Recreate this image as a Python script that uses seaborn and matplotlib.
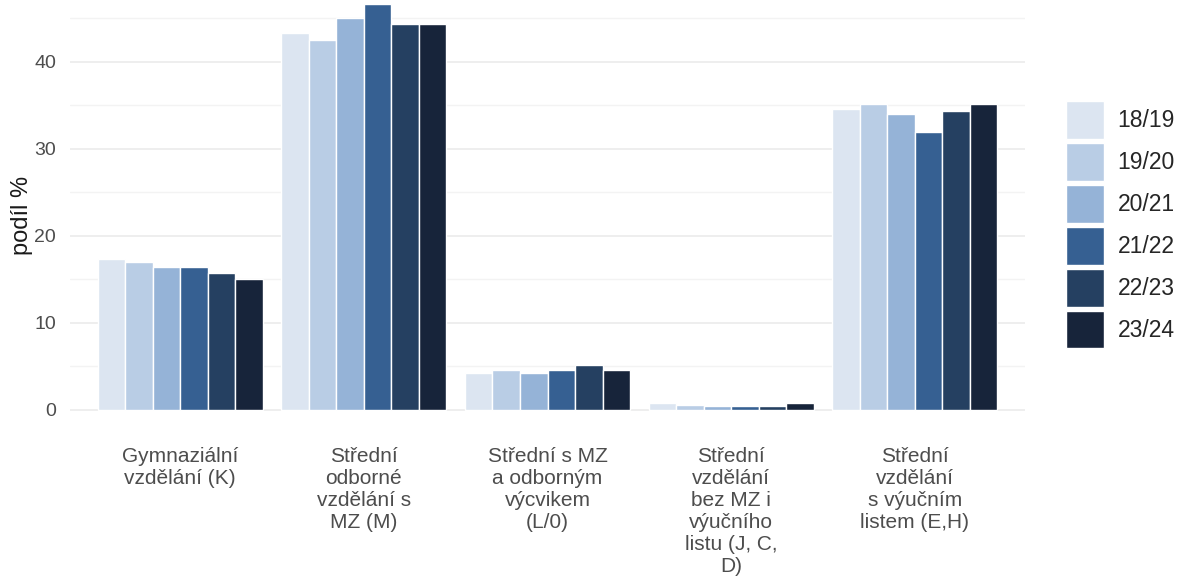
import matplotlib
matplotlib.use("Agg")
import matplotlib.pyplot as plt
import seaborn as sns
import pandas as pd

# categories (line breaks as in the original wrapped labels)
categories = [
    "Gymnaziální\nvzdělání (K)",
    "Střední\nodborné\nvzdělání s\nMZ (M)",
    "Střední s MZ\na odborným\nvýcvikem\n(L/0)",
    "Střední\nvzdělání\nbez MZ i\nvýučního\nlistu (J, C,\nD)",
    "Střední\nvzdělání\ns výučním\nlistem (E,H)",
]
years = ["18/19", "19/20", "20/21", "21/22", "22/23", "23/24"]

# share in % per year, one list per category
gymn = [17.4, 17.0, 16.4, 16.4, 15.7, 15.1]
sos_mz = [43.3, 42.5, 45.0, 46.6, 44.4, 44.4]
mz_vycvik = [4.2, 4.6, 4.2, 4.6, 5.2, 4.6]
bez_mz = [0.84, 0.6, 0.42, 0.42, 0.42, 0.84]
vyucni = [34.6, 35.2, 34.0, 31.9, 34.4, 35.2]

colors = ["#DCE5F1", "#B9CDE5", "#95B3D7", "#366092", "#254061", "#17243A"]

rows = []
for cat, vals in zip(categories, [gymn, sos_mz, mz_vycvik, bez_mz, vyucni]):
    for yr, v in zip(years, vals):
        rows.append({"kategorie": cat, "rok": yr, "podil": v})
df = pd.DataFrame(rows)

sns.set_theme(style="whitegrid")
plt.rcParams["font.family"] = ["Liberation Sans", "DejaVu Sans"]

fig = plt.figure(figsize=(11.77, 5.79), dpi=100)
ax = fig.add_axes([70 / 1177, (579 - 430) / 579, (1025 - 70) / 1177, 430 / 579])

sns.barplot(data=df, x="kategorie", y="podil", hue="rok", palette=colors,
            saturation=1, width=0.9, edgecolor="white", linewidth=1.0, ax=ax)

ax.set_xlim(-0.6, 4.6)
ax.set_ylim(-2.3, 47.1)
ax.set_yticks([0, 10, 20, 30, 40])
ax.set_yticks([5, 15, 25, 35, 45], minor=True)
ax.grid(axis="y", which="major", color="#EBEBEB", linewidth=1.2)
ax.grid(axis="y", which="minor", color="#F3F3F3", linewidth=1.0)
ax.grid(axis="x", visible=False)
ax.set_axisbelow(True)
for s in ax.spines.values():
    s.set_visible(False)

ax.tick_params(axis="y", which="both", length=0, labelsize=14, labelcolor="#4D4D4D", pad=10)
ax.tick_params(axis="x", length=0, labelsize=15, labelcolor="#4D4D4D", pad=12)
ax.set_xlabel("")
ax.set_ylabel("podíl %", fontsize=17, color="#1a1a1a")
ax.yaxis.set_label_coords(-0.039, 0.5)

for lbl in ax.get_xticklabels():
    lbl.set_linespacing(1.21)
    lbl.set_va("top")

sns.move_legend(ax, loc="center left", bbox_to_anchor=(1.043, 0.477), title=None,
                frameon=False, fontsize=16.5, handlelength=1.66, handleheight=2.17,
                labelspacing=0.17, handletextpad=0.58, borderaxespad=0, borderpad=0)

fig.savefig("out.png", dpi=100)
